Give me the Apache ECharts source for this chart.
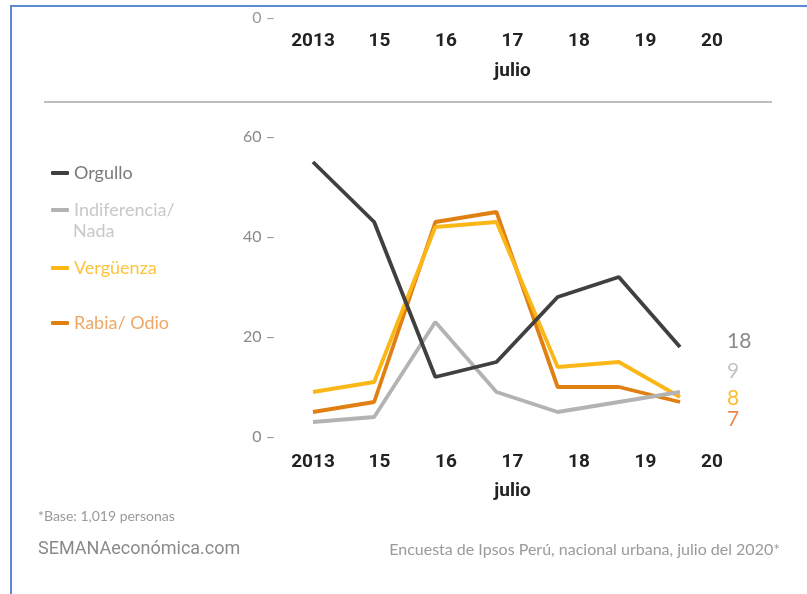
<!DOCTYPE html>
<html>
<head>
<meta charset="utf-8">
<script src="https://cdn.jsdelivr.net/npm/echarts@6/dist/echarts.min.js"></script>
<style>
  html, body { margin: 0; padding: 0; background: #fff; }
  #chart { width: 807px; height: 594px; }
</style>
</head>
<body>
<div id="chart"></div>
<script>
// data
var categories = ['2013', '15', '16', '17', '18', '19', '20'];
var orgullo = [55, 43, 12, 15, 28, 32, 18];
var indiferencia = [3, 4, 23, 9, 5, 7, 9];
var verguenza = [9, 11, 42, 43, 14, 15, 8];
var rabia = [5, 7, 43, 45, 10, 10, 7];
var yMin = 0, yMax = 60, yStep = 20;

var chart = echarts.init(document.getElementById('chart'));

var labelFont = "Roboto, 'Noto Sans', sans-serif";
var lightFont = "Lato, 'Open Sans', sans-serif";

function yAxisFor(idx, color, onlyZero) {
    return {
        type: 'value', gridIndex: idx, min: yMin, max: yMax, interval: yStep,
        axisLine: { show: false }, axisTick: { show: false }, splitLine: { show: false },
        axisLabel: {
            show: color != null, color: color,
            formatter: function (v) { return (onlyZero && v !== 0) ? '' : v + ' –'; },
            fontFamily: lightFont, fontSize: 16, margin: 38
        }
    };
}

function labelAxis(idx, margin, nameGap) {
    return {
        type: 'category', gridIndex: idx, data: categories, boundaryGap: false,
        axisLine: { show: false }, axisTick: { show: false },
        axisLabel: { color: '#222', fontFamily: labelFont, fontWeight: 'bold', fontSize: 19, margin: margin },
        name: 'julio', nameLocation: 'middle', nameGap: nameGap,
        nameTextStyle: { color: '#222', fontFamily: labelFont, fontWeight: 'bold', fontSize: 19 }
    };
}

function lineSeries(name, values, color, labelColor, dy) {
    return {
        name: name, type: 'line', data: values, xAxisIndex: 0, yAxisIndex: 0,
        symbol: 'none', lineStyle: { color: color, width: 3.8 }, itemStyle: { color: color },
        endLabel: {
            show: true, formatter: '{c}', distance: 0, offset: [47, dy],
            color: labelColor, fontFamily: lightFont, fontSize: 21
        }
    };
}

function legendFor(name, top, color, textColor, label) {
    return {
        left: 46, top: top, orient: 'vertical', itemWidth: 18, itemHeight: 4,
        itemGap: 0, selectedMode: false,
        data: [{ name: name, icon: 'roundRect', itemStyle: { color: color } }],
        formatter: function () { return label; },
        textStyle: { color: textColor, fontFamily: lightFont, fontSize: 18 }
    };
}

var option = {
    animation: false,
    backgroundColor: '#fff',
    grid: [
        { left: 313, right: 127, top: 137, bottom: 157 },
        { left: 313, right: 95, top: 137, bottom: 157 },
        // cropped copy of the axis at the top of the screenshot
        { left: 313, right: 95, top: 3, bottom: 576 }
    ],
    xAxis: [
        { type: 'category', gridIndex: 0, data: categories, boundaryGap: false, show: false },
        labelAxis(1, 16, 45),
        labelAxis(2, 14, 44)
    ],
    yAxis: [
        yAxisFor(0, '#8a8a8a', false),
        yAxisFor(1, null, false),
        yAxisFor(2, '#9a9a9a', true)
    ],
    legend: [
        legendFor('Orgullo', 159, '#404040', '#7a7a7a', 'Orgullo'),
        legendFor('Indiferencia/ Nada', 196, '#b3b3b3', '#c8c8c8', 'Indiferencia/'),
        legendFor('Vergüenza', 254, '#fbb718', '#fcc33c', 'Vergüenza'),
        legendFor('Rabia/ Odio', 309, '#e07f12', '#eda866', 'Rabia/ Odio')
    ],
    series: [
        lineSeries('Rabia/ Odio', rabia, '#e07f12', '#e8884f', 17),
        lineSeries('Vergüenza', verguenza, '#fbb718', '#f9bd30', 1),
        lineSeries('Indiferencia/ Nada', indiferencia, '#b3b3b3', '#c4c4c4', -21),
        lineSeries('Orgullo', orgullo, '#404040', '#8a8a8a', -6)
    ],
    graphic: [
        // frame of the screenshot
        { type: 'rect', shape: { x: 10, y: 5, width: 800, height: 2 }, style: { fill: '#5b8ad0' } },
        { type: 'rect', shape: { x: 10, y: 5, width: 2, height: 600 }, style: { fill: '#5b8ad0' } },
        // separator under the cropped top chart
        { type: 'line', shape: { x1: 44, y1: 102, x2: 772, y2: 102 }, style: { stroke: '#a8a8a8', lineWidth: 1.5 } },
        { type: 'text', left: 73, top: 222, style: { text: 'Nada', fill: '#c8c8c8', font: '18px ' + lightFont } },
        { type: 'text', left: 38, top: 509, style: { text: '*Base: 1,019 personas', fill: '#9a9a9a', font: '14px ' + lightFont } },
        { type: 'text', left: 38, top: 540, style: { text: 'SEMANAeconómica.com', fill: '#8a8a8a', font: '18px ' + labelFont } },
        { type: 'text', right: 27, top: 542, style: { text: 'Encuesta de Ipsos Perú, nacional urbana, julio del 2020*', fill: '#9a9a9a', font: '16px ' + lightFont } }
    ]
};

chart.setOption(option);
</script>
</body>
</html>
